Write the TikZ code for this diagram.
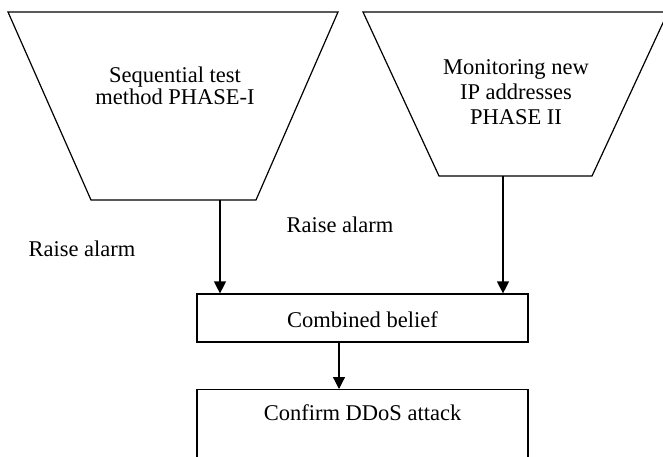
\documentclass[tikz,border=0pt]{standalone}
\usepackage{fontspec}
\setmainfont{Liberation Serif}
\usetikzlibrary{arrows.meta,positioning}
\begin{document}
\begin{tikzpicture}[x=1pt,y=-1pt,
  outline/.style={draw=black,line width=1.2pt,line join=miter},
  box/.style={outline,rectangle,minimum width=331pt,inner sep=0pt},
  txt/.style={font=\fontsize{22.5}{22}\selectfont,align=center,inner sep=0pt},
  flow/.style={line width=1.2pt,-{Triangle[length=12pt,width=12pt]}}]
\useasboundingbox (0,0) rectangle (663,457);
\clip (0,0) rectangle (663,457);
\fill[white] (0,0) rectangle (663,457);

% Phase I funnel
\draw[outline] (8,12) -- (338,12) -- (256,200) -- (91,200) -- cycle;
\node[txt] (seq) at (175,86) {Sequential test\\method PHASE-I};
\coordinate (seqout) at (220,200);

% Phase II funnel
\draw[outline] (363,12) -- (668,12) -- (592,176) -- (439,176) -- cycle;
\node[txt,font=\fontsize{22.5}{25}\selectfont] (mon) at (516,92) {Monitoring new\\IP addresses\\PHASE II};
\coordinate (monout) at (503,176);

% Alarm labels
\node[txt] (alarmL) at (82,249) {Raise alarm};
\node[txt] (alarmR) at (340,225) {Raise alarm};

% Fusion and decision boxes
\node[box,minimum height=48pt] (comb) at (362.5,318) {};
\node[txt] (combtxt) at (362.5,320) {Combined belief};
\node[box,minimum height=100pt,anchor=north] (conf) at (362.5,389) {};
\node[txt] (conftxt) at (362.5,413) {Confirm DDoS attack};

% Connectors
\draw[flow] (seqout) -- (seqout |- comb.north);
\draw[flow] (monout) -- (monout |- comb.north);
\coordinate (combout) at (339,342);
\draw[flow] (combout) -- (combout |- conf.north);
\end{tikzpicture}
\end{document}
